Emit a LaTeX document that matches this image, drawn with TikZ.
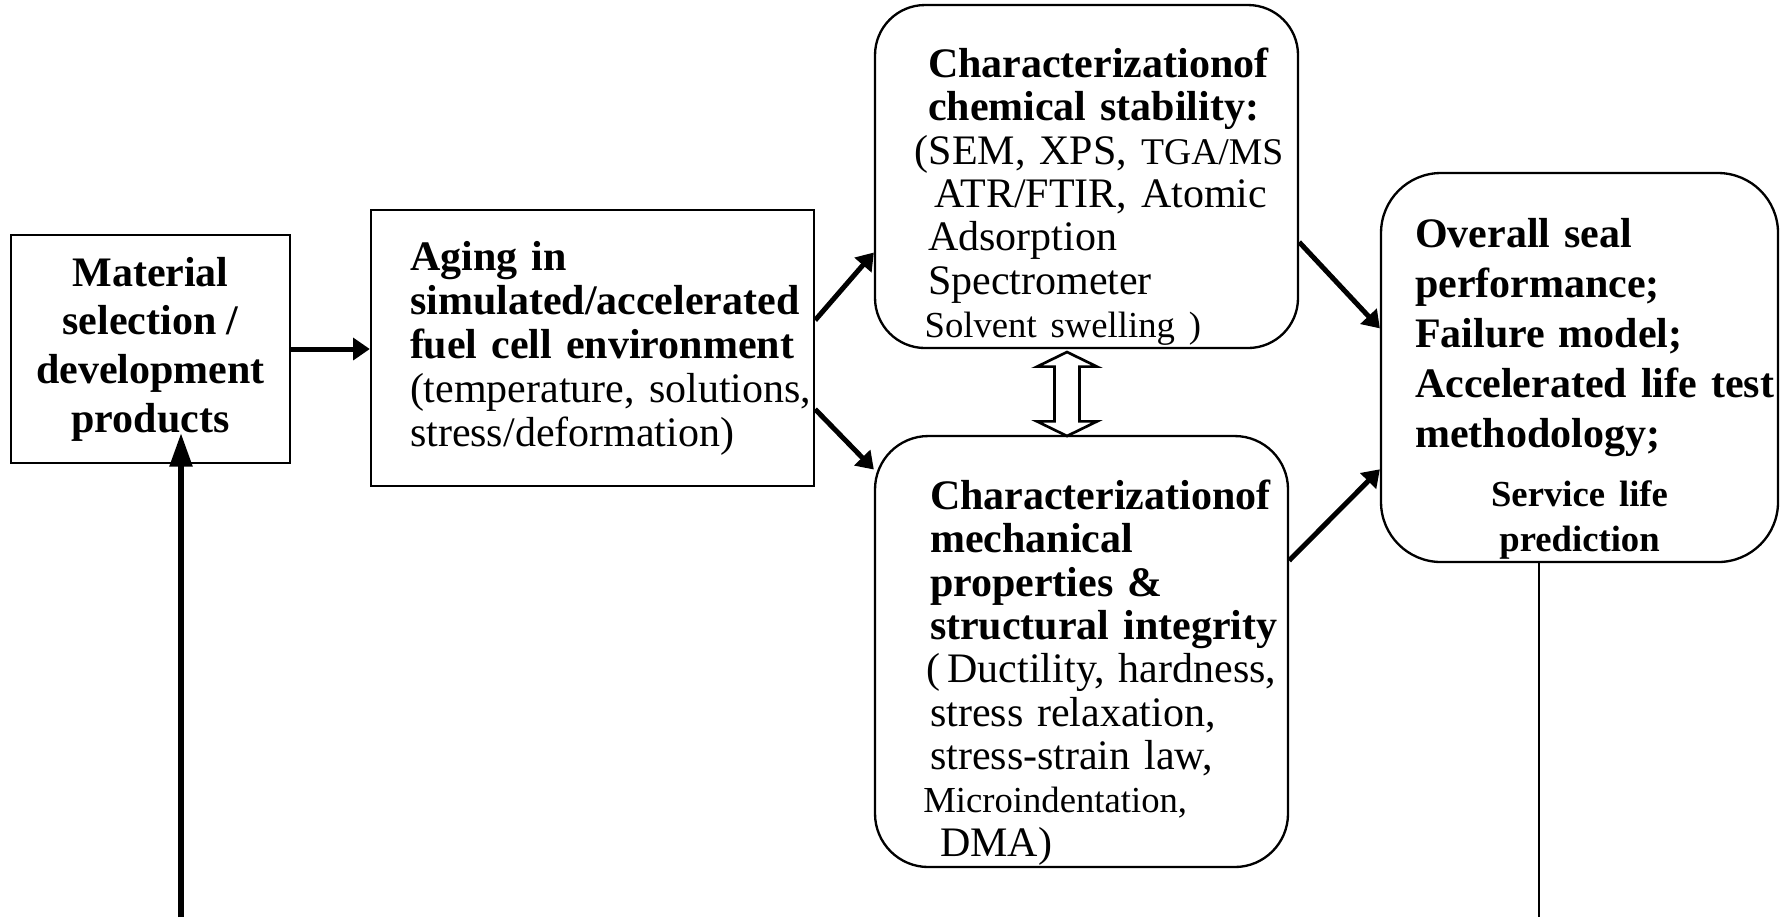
\documentclass[tikz,border=0pt]{standalone}
\usepackage{fontspec}
\setmainfont{Liberation Serif}
\usetikzlibrary{arrows.meta, calc, shapes.arrows}
\hyphenpenalty=10000

\begin{document}
\begin{tikzpicture}[
    x=0.3pt, y=-0.3pt,
    box/.style={
      rectangle, draw, line width=0.7pt, inner sep=0.5pt
    },
    roundbox/.style={box, rounded corners=#1},
    main/.style={font=\fontsize{12.6}{#1}\selectfont},
    mainbf/.style={font=\fontsize{12.6}{#1}\selectfont\bfseries},
    arr/.style={-{Triangle[length=5pt, width=6.5pt]}, line width=1.5pt},
    back/.style={-{Triangle[length=10pt, width=6.6pt]}, line width=1.6pt, shorten >=-9.3pt},
    outline/.style={line width=0.8pt},
    twoway/.style={
      double arrow, draw, line width=0.8pt, shape border rotate=90,
      minimum height=25.2pt, minimum width=18pt, inner sep=3.2pt,
      double arrow head extend=5pt, double arrow tip angle=128
    },
  ]
  \useasboundingbox (0,0) rectangle (1785,917);

  % Boxes
  \node[box, minimum width=83.7pt, minimum height=68.4pt, align=center,
    mainbf=14.6pt] (mat) at (150.5,349)
    {Material\\ selection /\\ development\\ products};
  \node[box, minimum width=132.9pt, minimum height=82.8pt, text width=109.5pt,
    align=left, main=13.2pt] (aging) at (592.5,348)
    {\textbf{Aging in\\ simulated/accelerated\\ fuel~cell~environment}\\
     (temperature,~solutions,\\ stress/deformation)};
  \node[roundbox=15pt, minimum width=126.9pt, minimum height=102.9pt, text width=95.1pt,
    align=left, main=13pt] (chem) at (1086.5,176.5)
    {\rule{0pt}{21pt}\textbf{Characterizationof\\ chemical~stability:}\\
     \hspace*{-4pt}(SEM,~XPS,~{\fontsize{11.3}{13}\selectfont TGA/MS}\\
     \hspace*{2pt}ATR/FTIR,~Atomic\\ Adsorption\\ Spectrometer\\
     \hspace*{-1pt}{\fontsize{11}{13}\selectfont Solvent~swelling~)}};
  \node[roundbox=16pt, minimum width=123.9pt, minimum height=129.3pt, text width=90.9pt,
    align=left, main=13pt] (mech) at (1081.5,651.5)
    {\rule{0pt}{21.5pt}\textbf{Characterizationof\\ mechanical\\ properties~\&\\ structural~integrity}\\
     \hspace*{-1pt}(\,Ductility,~hardness,\\ stress~relaxation,\\ stress-strain~law,\\
     \hspace*{-2pt}{\fontsize{11}{13}\selectfont Microindentation,}\\ \hspace*{3pt}DMA)};
  \node[roundbox=18pt, minimum width=119.1pt, minimum height=116.7pt, text width=98.7pt,
    align=left, mainbf=15pt] (perf) at (1579.5,367.5)
    {\rule{0pt}{21.5pt}Overall~seal\\ performance;\\ Failure~model;\\ Accelerated~life~test\\ methodology;\par
     \vspace{4pt}{\centering\fontsize{11}{13.5}\selectfont Service life\\ prediction\par}};

  % Two-way link
  \node[twoway] (link) at (1067,394) {};

  % Arrows
  \draw[arr] (mat.east) -- (mat.east -| aging.west);
  \draw[arr] ($(aging.north east)!0.40!(aging.south east)$) -- ($(chem.north west)!0.72!(chem.south west)$);
  \draw[arr] ($(aging.north east)!0.72!(aging.south east)$) -- ($(mech.north west)!0.08!(mech.south west)$);
  \draw[arr] ($(chem.north east)!0.69!(chem.south east)$) -- ($(perf.north west)!0.40!(perf.south west)$);
  \draw[arr] ($(mech.north east)!0.29!(mech.south east)$) -- ($(perf.north west)!0.76!(perf.south west)$);

  % Feedback lines
  \coordinate (fbin) at (181,917);
  \coordinate (fbout) at (1539,917);
  \draw[back] (fbin) -- (fbin |- mat.south);
  \draw[outline] (perf.south -| fbout) -- (fbout);

\end{tikzpicture}
\end{document}
